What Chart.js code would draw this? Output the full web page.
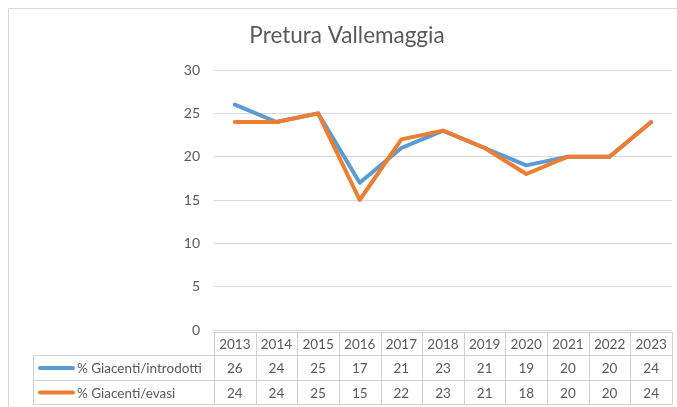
<!DOCTYPE html>
<html>
<head>
<meta charset="utf-8">
<script src="https://cdn.jsdelivr.net/npm/chart.js@4"></script>
<style>
  html, body { margin: 0; padding: 0; background: #fff; }
  #wrap { width: 677px; height: 407px; position: relative; }
</style>
</head>
<body>
<div id="wrap"><canvas id="c" width="677" height="407"></canvas></div>
<script>
const title = 'Pretura Vallemaggia';
const years = ['2013','2014','2015','2016','2017','2018','2019','2020','2021','2022','2023'];
const seriesNames = ['% Giacenti/introdotti', '% Giacenti/evasi'];
const introdotti = [26, 24, 25, 17, 21, 23, 21, 19, 20, 20, 24];
const evasi = [24, 24, 25, 15, 22, 23, 21, 18, 20, 20, 24];
const yTicks = [0, 5, 10, 15, 20, 25, 30];

const TXT = '#595959';
const GRID = '#D9D9D9';
const FONT = 'Lato, "Open Sans", "Noto Sans", sans-serif';

const extras = {
  id: 'extras',
  afterDraw(chart) {
    const ctx = chart.ctx;
    const x = chart.scales.x;
    ctx.save();
    // outer frame
    ctx.strokeStyle = GRID;
    ctx.lineWidth = 1;
    ctx.beginPath();
    ctx.moveTo(8.5, 420);
    ctx.lineTo(8.5, 8.5);
    ctx.lineTo(700, 8.5);
    ctx.stroke();
    // title
    ctx.fillStyle = TXT;
    ctx.font = '22.5px ' + FONT;
    ctx.textAlign = 'center';
    ctx.textBaseline = 'middle';
    ctx.fillText(title, 347, 36);

    // data table
    const half = (x.getPixelForValue(1) - x.getPixelForValue(0)) / 2;
    const left = Math.round(x.getPixelForValue(0) - half) + 0.5;
    const right = Math.round(x.getPixelForValue(years.length - 1) + half) + 0.5;
    const legLeft = 33.5;
    const rows = [332.5, 355.5, 380.5, 404.5];
    ctx.strokeStyle = '#D0D0D0';
    ctx.lineWidth = 1;
    ctx.beginPath();
    ctx.moveTo(left, rows[0]); ctx.lineTo(right, rows[0]);
    for (let r = 1; r < rows.length; r++) { ctx.moveTo(legLeft, rows[r]); ctx.lineTo(right, rows[r]); }
    for (let i = 0; i <= years.length; i++) {
      const px = Math.round(x.getPixelForValue(0) - half + i * half * 2) + 0.5;
      ctx.moveTo(px, rows[0]); ctx.lineTo(px, rows[3]);
    }
    ctx.moveTo(legLeft, rows[1]); ctx.lineTo(legLeft, rows[3]);
    ctx.stroke();

    ctx.font = '13.5px ' + FONT;
    ctx.fillStyle = TXT;
    ctx.textAlign = 'center';
    ctx.textBaseline = 'middle';
    const rowVals = [introdotti, evasi];
    years.forEach((y, i) => {
      const px = x.getPixelForValue(i);
      ctx.fillText(y, px, (rows[0] + rows[1]) / 2 + 1);
      rowVals.forEach((vals, r) => {
        ctx.fillText(String(vals[i]), px, (rows[r + 1] + rows[r + 2]) / 2 + 1);
      });
    });
    chart.data.datasets.forEach((ds, r) => {
      const cy = (rows[r + 1] + rows[r + 2]) / 2;
      ctx.strokeStyle = ds.borderColor;
      ctx.lineWidth = 4;
      ctx.lineCap = 'round';
      ctx.beginPath();
      ctx.moveTo(40, cy); ctx.lineTo(73, cy);
      ctx.stroke();
      ctx.fillStyle = TXT;
      ctx.textAlign = 'left';
      ctx.fillText(ds.label, 77, cy + 1);
    });
    ctx.restore();
  }
};

new Chart(document.getElementById('c'), {
  type: 'line',
  data: {
    labels: years,
    datasets: [
      { label: seriesNames[0], data: introdotti, borderColor: '#5B9BD5', backgroundColor: '#5B9BD5', order: 2,
        borderWidth: 4, pointRadius: 0, tension: 0, borderCapStyle: 'round', borderJoinStyle: 'round' },
      { label: seriesNames[1], data: evasi, borderColor: '#ED7D31', backgroundColor: '#ED7D31', order: 1,
        borderWidth: 4, pointRadius: 0, tension: 0, borderCapStyle: 'round', borderJoinStyle: 'round' }
    ]
  },
  options: {
    responsive: false,
    animation: false,
    layout: { padding: { top: 70, bottom: 77, right: 5, left: 0 } },
    plugins: { legend: { display: false }, title: { display: false }, tooltip: { enabled: false } },
    scales: {
      x: { display: false, offset: true },
      y: {
        min: 0, max: 30,
        afterBuildTicks(scale) { scale.ticks = yTicks.map(v => ({ value: v })); },
        afterFit(scale) { scale.width = 214; },
        border: { display: false },
        grid: { color: GRID, lineWidth: 1, drawTicks: false },
        ticks: { color: TXT, font: { family: FONT, size: 14 }, padding: 14 }
      }
    }
  },
  plugins: [extras]
});
</script>
</body>
</html>
